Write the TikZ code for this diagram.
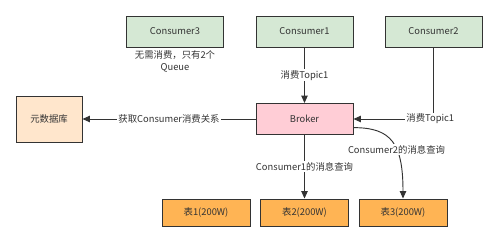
\documentclass[tikz,border=0pt]{standalone}
\usepackage{fontspec}
\setmainfont{Noto Sans CJK SC}
\usetikzlibrary{arrows.meta, positioning}

\definecolor{consumergreen}{HTML}{D5E8D4}
\definecolor{brokerpink}{HTML}{FFCDD6}
\definecolor{metaorange}{HTML}{FFE6CC}
\definecolor{tableorange}{HTML}{FFB454}
\definecolor{inkgray}{HTML}{333333}

\begin{document}
\begin{tikzpicture}[
    x=0.3mm, y=-0.3mm,
    box/.style={
        rectangle,
        draw=inkgray,
        line width=0.8pt,
        text=inkgray,
        align=center,
        font=\fontsize{8}{9.6}\selectfont
    },
    consumer/.style={
        box,
        fill=consumergreen,
        minimum width=29.1mm,
        minimum height=9.3mm
    },
    broker/.style={
        consumer,
        fill=brokerpink
    },
    meta/.style={
        box,
        fill=metaorange,
        minimum width=19.8mm,
        minimum height=13.8mm
    },
    tablebox/.style={
        box,
        fill=tableorange,
        minimum width=26.4mm,
        minimum height=8.1mm
    },
    link/.style={
        -{Triangle[length=2.2mm, width=1.9mm]},
        line width=0.8pt,
        draw=inkgray
    },
    label_text/.style={
        font=\fontsize{8}{9.6}\selectfont,
        text=inkgray,
        fill=white,
        inner sep=1pt,
        align=center
    }
]
    \useasboundingbox (0,0) rectangle (499,243);

    % CONSUMERS (top row)
    \node[consumer] (consumer3) at (175,31.5) {Consumer3};
    \node[consumer] (consumer1) at (304.5,31.5) {Consumer1};
    \node[consumer] (consumer2) at (433.5,31.5) {Consumer2};
    \node[label_text] (note3) at (175,61.5) {无需消费，只有2个\\Queue};

    % BROKER AND METADATA
    \node[broker] (broker) at (304.5,119) {Broker};
    \node[meta] (metadb) at (49,119) {元数据库};

    % TABLES (bottom row)
    \node[tablebox] (table1) at (206,212.5) {表1(200W)};
    \node[tablebox] (table2) at (304.5,212.5) {表2(200W)};
    \node[tablebox] (table3) at (403,212.5) {表3(200W)};

    % CONSUME LINKS
    \draw[link] (consumer1) -- (broker) node[midway, label_text] {消费Topic1};
    \draw[link] (consumer2.south) |- (broker.east) node[pos=0.52, label_text] {消费Topic1};

    % METADATA LINK
    \draw[link] (broker) -- (metadb) node[midway, label_text] {获取Consumer消费关系};

    % QUERY LINKS
    \draw[link] (broker) -- (table2) node[midway, label_text] {Consumer1的消息查询};
    \draw[link] (broker.-10) .. controls +(38,0) and +(0,-55) .. (table3.north)
        node[pos=0.6, label_text] {Consumer2的消息查询};

\end{tikzpicture}
\end{document}
